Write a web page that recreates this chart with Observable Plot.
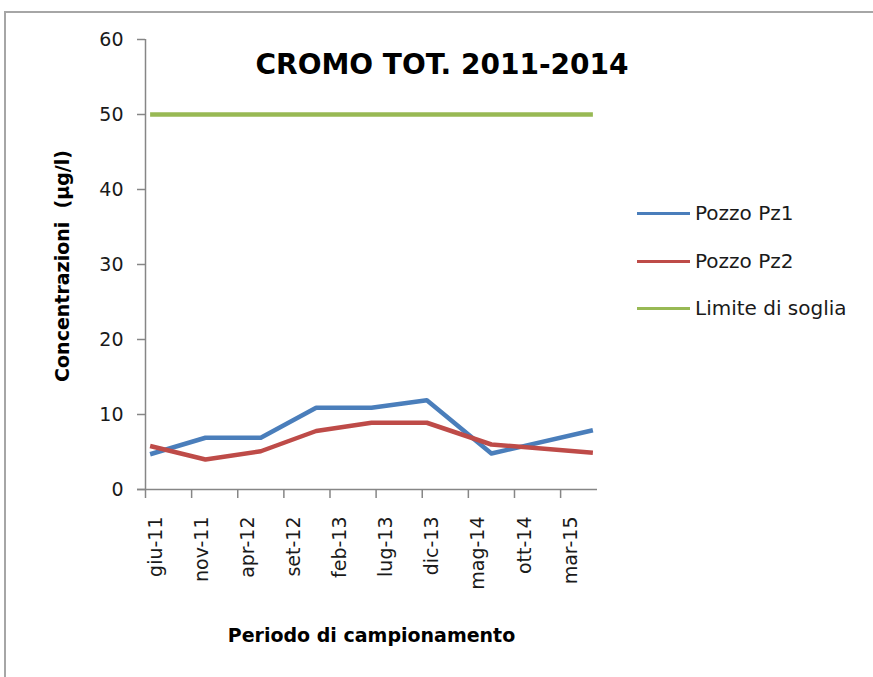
<!DOCTYPE html>
<html><head><meta charset="utf-8">
<script src="https://cdn.jsdelivr.net/npm/d3@7"></script>
<script src="https://cdn.jsdelivr.net/npm/@observablehq/plot@0.6"></script>
<style>
body{margin:0;background:#fff;font-family:"DejaVu Sans",sans-serif;color:#1a1a1a;}
#wrap{position:relative;width:873px;height:677px;overflow:hidden;background:#fff;}
#border{position:absolute;left:4px;top:11px;width:900px;height:720px;border:2px solid #a6a6a6;box-sizing:border-box;}
#chart{position:absolute;left:0;top:0;}
.t{position:absolute;white-space:nowrap;}
#title{left:0;width:884px;top:51px;text-align:center;font-weight:bold;font-size:28px;line-height:28px;color:#000;}
#xlab{left:0;width:743px;top:626px;text-align:center;font-weight:bold;font-size:19px;line-height:19px;color:#000;}
#ylab{left:62px;top:266px;width:300px;text-align:center;font-weight:bold;font-size:19px;line-height:19px;color:#000;transform:translate(-50%,-50%) rotate(-90deg);}
.leg{position:absolute;left:637px;font-size:20px;line-height:20px;}
.leg span.sw{position:absolute;left:0;top:8.5px;width:53px;height:3px;}
.leg span.lb{position:absolute;left:58px;top:0;white-space:nowrap;}
</style>
</head><body>
<div id="wrap">
  <div id="border"></div>
  <div id="chart"></div>
  <div id="title" class="t"></div>
  <div id="xlab" class="t"></div>
  <div id="ylab" class="t"></div>
  <div id="legend"></div>
</div>
<script>
// ---- data ----
const dates = ["2011-06","2011-12","2012-06","2012-12","2013-06","2013-12","2014-07","2015-06"];
const pz1 = [4.7, 6.9, 6.9, 10.9, 10.9, 11.9, 4.8, 7.9];
const pz2 = [5.8, 4.0, 5.1, 7.8, 8.9, 8.9, 6.0, 4.9];
const soglia = [50, 50, 50, 50, 50, 50, 50, 50];
const tickLabels = ["giu-11","nov-11","apr-12","set-12","feb-13","lug-13","dic-13","mag-14","ott-14","mar-15"];
const yTicks = [0, 10, 20, 30, 40, 50, 60];
const monthNames = ["gen","feb","mar","apr","mag","giu","lug","ago","set","ott","nov","dic"];
const seriesNames = ["Pozzo Pz1", "Pozzo Pz2", "Limite di soglia"];
const seriesColors = ["#4a7ebb", "#be4b48", "#98b954"];
const titleText = "CROMO TOT. 2011-2014";
const xTitle = "Periodo di campionamento";
const yTitle = "Concentrazioni\u00a0\u00a0(µg/l)";

// month index from June 2011 (axis origin); points sit mid-month
const START_Y = 2011, START_M = 6;
function idxFromDate(s) { const [y, m] = s.split("-").map(Number); return (y - START_Y) * 12 + (m - START_M) + 0.5; }
function idxFromLabel(l) { const [mn, yy] = l.split("-"); return (2000 + +yy - START_Y) * 12 + (monthNames.indexOf(mn) + 1 - START_M); }

const seriesVals = [pz1, pz2, soglia];
const rows = [];
seriesVals.forEach((vals, s) => vals.forEach((v, i) => rows.push({series: seriesNames[s], x: idxFromDate(dates[i]), y: v})));
const xTickPos = tickLabels.map(idxFromLabel);

const axisColor = "#868686";
const plot = Plot.plot({
  width: 873, height: 677,
  marginLeft: 145, marginRight: 276, marginTop: 39, marginBottom: 188,
  style: {fontFamily: "DejaVu Sans", fontSize: "19px", color: "#1a1a1a", background: "transparent"},
  x: {domain: [0, 49]},
  y: {domain: [0, 60]},
  color: {domain: seriesNames, range: seriesColors},
  marks: [
    Plot.ruleX([0], {stroke: axisColor, strokeWidth: 1.5}),
    Plot.ruleY([0], {stroke: axisColor, strokeWidth: 1.5, insetLeft: -8}),
    Plot.axisY({ticks: yTicks, tickSize: 8, tickPadding: 14, stroke: axisColor, strokeWidth: 1.5, label: null, fontSize: 19}),
    Plot.axisX({ticks: xTickPos, tickSize: 9, text: null, stroke: axisColor, strokeWidth: 1.5, label: null}),
    Plot.axisX({ticks: xTickPos, tickFormat: (d, i) => tickLabels[i], tickSize: 0, tickPadding: 27, tickRotate: -90, dx: 10, label: null, fontSize: 19}),
    Plot.line(rows, {x: "x", y: "y", z: "series", stroke: "series", strokeWidth: 4.5, strokeLinejoin: "round", strokeLinecap: "butt"})
  ]
});
document.getElementById("chart").appendChild(plot);

document.getElementById("title").textContent = titleText;
document.getElementById("xlab").textContent = xTitle;
document.getElementById("ylab").textContent = yTitle;
const legendTops = [203, 251, 298];
const leg = document.getElementById("legend");
seriesNames.forEach((n, i) => {
  const d = document.createElement("div");
  d.className = "leg";
  d.style.top = legendTops[i] + "px";
  d.innerHTML = `<span class="sw" style="background:${seriesColors[i]}"></span><span class="lb"></span>`;
  d.querySelector(".lb").textContent = n;
  leg.appendChild(d);
});
</script>
</body></html>
